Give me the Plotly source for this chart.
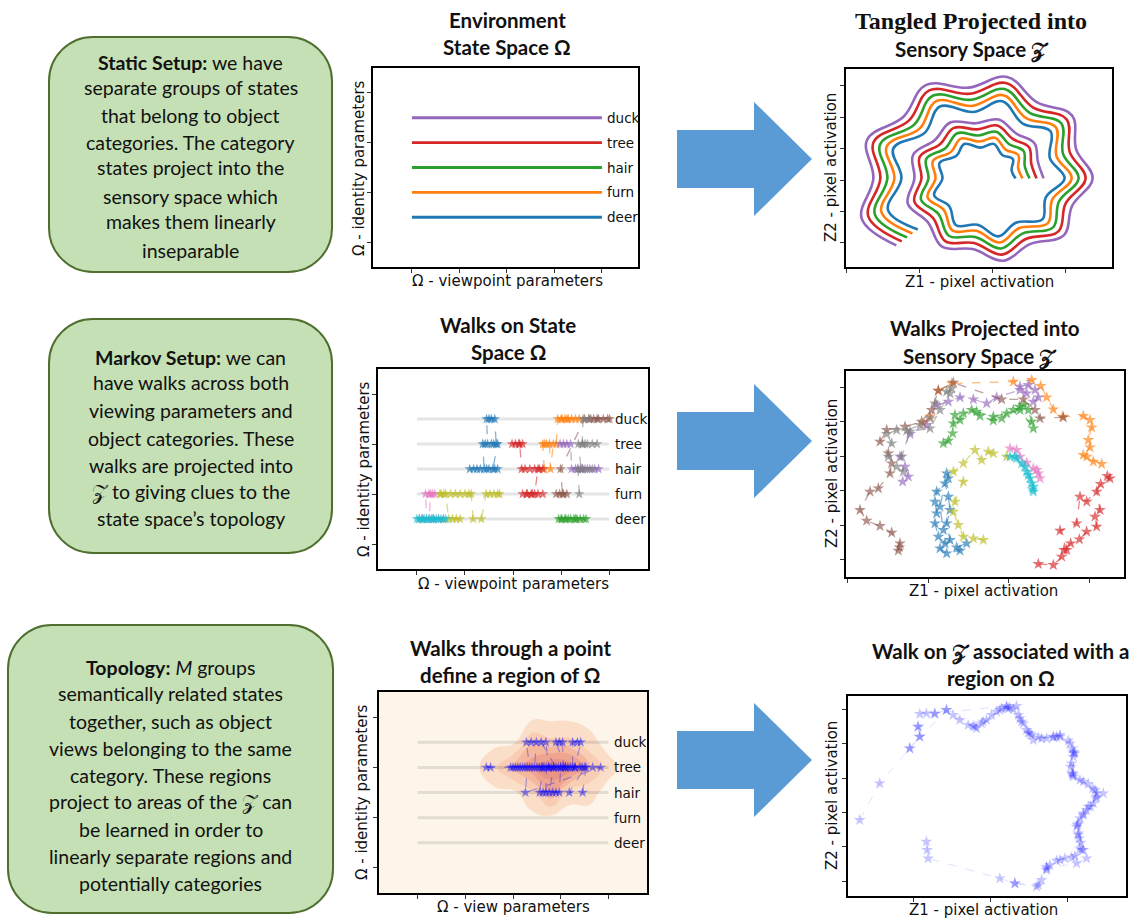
import numpy as np
import plotly.graph_objects as go

W, H = 1145, 922

# ---------------------------------------------------------------- data
CATEGORIES = ["deer", "furn", "hair", "tree", "duck"]
CATEGORY_COLORS = ["#1f77b4", "#ff7f0e", "#2ca02c", "#d62728", "#9467bd"]
CATEGORY_LEVEL = [0, 1, 2, 3, 4]
VIEW_TICKS = [0, 1, 2, 3, 4]
IDENTITY_TICKS = [-1, 1, 3, 5]
VIEW_SPAN = [0, 4]

# tangled spiral (angle along the spiral, radius per category)
SPIRAL_ANGLE_DEG = [0, 20, 40, 60, 80, 100, 120, 140, 160, 180, 200, 220, 240, 260, 280,
                    300, 320, 340, 360, 380, 400, 420, 440, 460, 480, 500, 520, 540, 560, 580]
SPIRAL_R_DEER = [86, 79, 102, 92, 119, 106, 135, 119, 151, 133, 168, 147, 184, 160, 200,
                 174, 217, 188, 233, 201, 249, 215, 266, 229, 282, 242, 298, 256, 315, 270]
SPIRAL_R_FURN = [107, 100, 123, 113, 140, 127, 156, 140, 172, 154, 189, 168, 205, 181, 221,
                 195, 238, 209, 254, 222, 270, 236, 287, 250, 303, 263, 319, 277, 336, 291]
SPIRAL_R_HAIR = [128, 121, 144, 134, 161, 148, 177, 161, 193, 175, 210, 189, 226, 202, 242,
                 216, 259, 230, 275, 243, 291, 257, 308, 271, 324, 284, 340, 298, 357, 312]
SPIRAL_R_TREE = [149, 142, 165, 155, 182, 169, 198, 182, 214, 196, 231, 210, 247, 223, 263,
                 237, 280, 251, 296, 264, 312, 278, 329, 292, 345, 305, 361, 319, 378, 333]
SPIRAL_R_DUCK = [170, 163, 186, 176, 203, 190, 219, 203, 235, 217, 252, 231, 268, 244, 284,
                 258, 301, 272, 317, 285, 333, 299, 350, 313, 366, 326, 382, 340, 399, 354]
SPIRAL_CENTER = (422, 265)
SPIRAL_Y_SQUASH = 0.88

Z1_TICKS_STATIC = [0, 219, 438, 657]
Z2_TICKS_STATIC = [72, 166, 260, 354, 448, 542]
Z1_TICKS_MARKOV = [2, 244, 486, 728]
Z2_TICKS_MARKOV = [52, 155, 259, 362, 466, 569]
Z1_TICKS_TOPO = [195, 427, 657]
Z2_TICKS_TOPO = [45, 148, 251, 354, 457, 560]

WALK_COLORS = ["#1f77b4", "#ff7f0e", "#2ca02c", "#d62728", "#9467bd",
               "#8c564b", "#e377c2", "#7f7f7f", "#bcbd22", "#17becf"]

# Markov walks on the state space Omega (viewpoint, identity level)
om_blue_x = [1.10, 1.18, 1.25, 1.32, 1.40, 1.37, 1.42, 1.47, 1.45, 1.50, 1.55, 1.62, 1.65, 1.60, 1.55, 1.68, 1.58, 1.50, 1.62, 1.68, 1.45]
om_blue_y = [2, 2, 2, 2, 2, 3, 3, 3, 4, 4, 4, 4, 3, 3, 3, 3, 2, 2, 2, 2, 2]
om_orange_x = [2.65, 2.62, 2.70, 2.66, 2.76, 2.78, 2.84, 2.90, 2.93, 3.00, 3.08, 3.15, 3.22, 3.30, 3.38, 3.12, 3.02]
om_orange_y = [2, 3, 3, 3, 3, 2, 3, 3, 4, 4, 4, 4, 4, 4, 4, 4, 4]
om_green_x = [2.95, 3.02, 3.08, 3.15, 3.20, 3.27, 3.33, 3.40, 3.47, 3.52, 3.30, 3.10, 3.00]
om_green_y = [0, 0, 0, 0, 0, 0, 0, 0, 0, 0, 0, 0, 0]
om_red_x = [1.98, 2.05, 2.12, 2.20, 2.14, 2.18, 2.25, 2.35, 2.45, 2.55, 2.62, 2.52, 2.45, 2.38, 2.30, 2.20, 2.28, 2.40, 2.52, 2.62]
om_red_y = [3, 3, 3, 3, 3, 2, 2, 2, 2, 2, 2, 2, 1, 1, 1, 1, 1, 1, 1, 1]
om_purple_x = [2.98, 3.05, 3.12, 3.20, 3.22, 3.30, 3.40, 3.50, 3.60, 3.70, 3.78, 3.45, 3.35]
om_purple_y = [3, 3, 3, 3, 2, 2, 2, 2, 2, 2, 2, 2, 2]
om_brown_x = [2.90, 2.97, 3.05, 3.12, 3.03, 2.99, 3.49, 3.58, 3.68, 3.78, 3.88, 3.97, 4.01, 3.75, 3.62]
om_brown_y = [1, 1, 1, 1, 1, 2, 4, 4, 4, 4, 4, 4, 4, 4, 4]
om_pink_x = [0.05, 0.12, 0.20, 0.18, 0.25, 0.32, 0.37, 0.28, 0.26, 0.35, 0.45, 0.55]
om_pink_y = [0, 0, 0, 1, 1, 1, 1, 1, 0, 0, 0, 0]
om_gray_x = [3.38, 3.35, 3.45, 3.55, 3.65, 3.42, 3.36, 3.45, 3.55, 3.65, 3.75, 3.50, 3.44, 3.46, 3.58]
om_gray_y = [1, 2, 2, 2, 2, 2, 3, 3, 3, 3, 3, 3, 3, 4, 4]
om_olive_x = [0.90, 0.82, 0.74, 0.66, 0.60, 0.50, 0.48, 0.56, 0.70, 0.80, 0.90, 1.00, 1.08, 1.13, 1.17, 1.34, 1.44, 1.52, 1.60, 1.68, 1.72]
om_olive_y = [0, 0, 0, 0, 1, 1, 1, 1, 1, 1, 1, 1, 1, 1, 0, 0, 1, 1, 1, 1, 1]
om_cyan_x = [0.00, 0.05, 0.10, 0.15, 0.20, 0.25, 0.30, 0.35, 0.40, 0.45, 0.50, 0.55, 0.60, 0.32, 0.12]
om_cyan_y = [0, 0, 0, 0, 0, 0, 0, 0, 0, 0, 0, 0, 0, 0, 0]

# the same walks seen in the sensory space Z (Z1, Z2)
z_blue_x = [300, 305, 270, 265, 270, 265, 275, 295, 330, 360, 340, 300, 280, 310, 300, 310, 305, 295, 280, 290]
z_blue_y = [310, 295, 255, 225, 190, 160, 120, 100, 88, 100, 78, 70, 85, 110, 160, 200, 240, 280, 210, 140]
z_orange_x = [230, 250, 275, 315, 500, 555, 582, 600, 620, 648, 710, 730, 735, 725, 730, 710, 740, 765, 720]
z_orange_y = [460, 480, 558, 580, 585, 590, 572, 538, 502, 480, 482, 470, 448, 410, 388, 365, 345, 338, 360]
z_green_x = [290, 305, 318, 320, 325, 340, 375, 400, 440, 465, 480, 500, 518, 532, 545, 555, 560, 520, 440, 390, 350]
z_green_y = [400, 408, 430, 460, 485, 470, 500, 482, 468, 475, 490, 500, 510, 515, 500, 465, 445, 500, 480, 495, 490]
z_red_x = [575, 620, 645, 652, 672, 698, 720, 750, 745, 760, 750, 762, 790, 782, 720, 700, 690, 640, 660]
z_red_y = [38, 35, 60, 80, 100, 112, 135, 150, 180, 200, 255, 278, 295, 302, 225, 240, 160, 138, 80]
z_purple_x = [560, 575, 565, 545, 520, 540, 520, 450, 420, 380, 340, 305, 270, 240, 190, 160, 175, 185, 168]
z_purple_y = [525, 538, 560, 575, 570, 550, 560, 538, 520, 532, 538, 525, 515, 455, 428, 360, 330, 300, 285]
z_brown_x = [650, 580, 565, 530, 465, 320, 275, 255, 225, 175, 120, 100, 125, 135, 130, 95, 70, 40, 60, 100, 135, 160, 155, 158]
z_brown_y = [478, 475, 500, 532, 532, 582, 558, 500, 465, 450, 440, 405, 370, 340, 310, 265, 255, 200, 168, 152, 132, 100, 78, 88]
z_pink_x = [490, 510, 520, 540, 560, 575, 580, 570]
z_pink_y = [385, 380, 360, 342, 325, 310, 295, 320]
z_gray_x = [315, 300, 265, 250, 220, 180, 150, 120, 135, 125, 150, 170, 165, 190, 250, 280, 310]
z_gray_y = [565, 555, 520, 475, 455, 438, 440, 428, 400, 360, 330, 315, 360, 435, 445, 500, 550]
z_olive_x = [410, 380, 350, 335, 320, 325, 350, 320, 350, 385, 405, 425, 440, 480]
z_olive_y = [110, 115, 120, 155, 195, 225, 285, 315, 340, 380, 350, 375, 370, 360]
z_cyan_x = [490, 510, 525, 540, 550, 560, 560, 555, 535, 505, 545, 558]
z_cyan_y = [360, 355, 340, 315, 295, 270, 255, 280, 330, 360, 305, 262]

# walks through one point of Omega (all on / around "tree")
region_x = [1.44, 1.53, 1.95, 2.05, 2.15, 2.25, 2.35, 2.28, 2.38, 2.49, 2.45, 2.55, 2.62, 2.56, 2.63, 2.69,
            2.70, 2.80, 2.90, 2.59, 2.69, 2.75, 2.85, 2.76, 2.83, 2.90, 2.97, 3.00, 3.10, 2.90, 2.97, 3.04,
            3.05, 3.15, 3.25, 3.25, 3.35, 3.42, 3.30, 3.40, 3.50, 3.18, 3.46, 3.53, 3.67, 3.84, 2.26, 2.30,
            2.50, 2.65, 2.75, 2.95, 3.20, 2.00, 2.10, 2.20, 2.40, 2.60, 2.85, 3.00, 3.10, 3.30, 3.45]
region_y = [3, 3, 3, 3, 3, 3, 3, 4, 4, 4, 3, 3, 3, 2, 2, 2,
            3, 3, 3, 4, 4, 3, 3, 2, 2, 2, 2, 3, 3, 4, 4, 4,
            3, 3, 3, 4, 4, 4, 3, 3, 3, 2, 2, 3, 3, 3, 2, 3,
            3, 3, 3, 3, 3, 3, 3, 3, 3, 3, 3, 3, 3, 3, 3]

# their images in Z
zr_walk1_x = [215, 235, 260, 295, 315, 335, 360, 380, 400, 415, 430, 445, 460, 475, 495, 510, 520, 535, 550, 570,
              595, 615, 635, 660, 673, 675, 667, 673, 695, 720, 740, 745, 735, 715, 695, 685, 690, 697, 700, 680,
              650, 625, 605, 595, 580, 565, 500, 455, 240, 237, 235]
zr_walk1_y = [546, 548, 546, 558, 543, 528, 513, 508, 518, 528, 543, 553, 563, 566, 560, 543, 523, 498, 483, 476,
              473, 476, 478, 466, 443, 418, 388, 363, 348, 336, 318, 298, 278, 258, 233, 208, 183, 160, 138, 120,
              113, 106, 93, 78, 48, 28, 38, 53, 113, 138, 163]
zr_walk2_x = [210, 215, 185, 295, 385, 480, 525, 555, 635, 680, 670, 765, 720, 690, 715, 685, 595, 570, 500]
zr_walk2_y = [508, 478, 443, 558, 503, 563, 518, 468, 483, 428, 368, 308, 268, 218, 113, 98, 83, 33, 38]
zr_walk3_x = [35, 95, 185, 215, 210, 260, 475, 505, 545, 615, 675, 675, 745, 705, 690, 705, 635, 595]
zr_walk3_y = [228, 338, 443, 478, 508, 548, 570, 570, 488, 478, 428, 358, 308, 248, 188, 138, 108, 88]
zr_walk4_x = [375, 405, 455, 485, 515, 540, 580, 625, 665, 677, 670, 675, 705, 733, 743, 727, 705, 687, 693, 695, 670]
zr_walk4_y = [510, 523, 558, 566, 533, 490, 473, 478, 458, 433, 398, 368, 343, 323, 293, 268, 243, 213, 173, 143, 116]

# ---------------------------------------------------------------- helpers
def px_x(v):
    return v / W


def px_y(v):
    return 1 - v / H


def dom_x(a, b):
    return [a / W, b / W]


def dom_y(top, bottom):
    return [1 - bottom / H, 1 - top / H]


def rgba(hexcol, a):
    h = hexcol.lstrip("#")
    r, g, b = int(h[0:2], 16), int(h[2:4], 16), int(h[4:6], 16)
    return f"rgba({r},{g},{b},{a})"


def rounded_rect(x0, y0, x1, y1, r):
    k = 0.5523 * r
    P = lambda x, y: f"{px_x(x):.5f},{px_y(y):.5f}"
    return (f"M {P(x0 + r, y0)} L {P(x1 - r, y0)} "
            f"C {P(x1 - r + k, y0)} {P(x1, y0 + r - k)} {P(x1, y0 + r)} "
            f"L {P(x1, y1 - r)} "
            f"C {P(x1, y1 - r + k)} {P(x1 - r + k, y1)} {P(x1 - r, y1)} "
            f"L {P(x0 + r, y1)} "
            f"C {P(x0 + r - k, y1)} {P(x0, y1 - r + k)} {P(x0, y1 - r)} "
            f"L {P(x0, y0 + r)} "
            f"C {P(x0, y0 + r - k)} {P(x0 + r - k, y0)} {P(x0 + r, y0)} Z")


def block_arrow(x0, x_neck, x_tip, yc, shaft_half, head_half):
    P = lambda x, y: f"{px_x(x):.5f},{px_y(y):.5f}"
    return (f"M {P(x0, yc - shaft_half)} L {P(x_neck, yc - shaft_half)} L {P(x_neck, yc - head_half)} "
            f"L {P(x_tip, yc)} L {P(x_neck, yc + head_half)} L {P(x_neck, yc + shaft_half)} "
            f"L {P(x0, yc + shaft_half)} Z")


fig = go.Figure()

# ---------------------------------------------------------------- row 1 left : state space
for name, col, lev in zip(CATEGORIES, CATEGORY_COLORS, CATEGORY_LEVEL):
    fig.add_trace(go.Scatter(x=VIEW_SPAN, y=[lev, lev], mode="lines",
                             line=dict(color=col, width=2.8), xaxis="x", yaxis="y",
                             hoverinfo="skip"))

# ---------------------------------------------------------------- row 1 right : tangled spiral
theta = np.deg2rad(SPIRAL_ANGLE_DEG)
for radii, col in zip([SPIRAL_R_DEER, SPIRAL_R_FURN, SPIRAL_R_HAIR, SPIRAL_R_TREE, SPIRAL_R_DUCK],
                      CATEGORY_COLORS):
    r = np.array(radii, dtype=float)
    fig.add_trace(go.Scatter(x=SPIRAL_CENTER[0] + r * np.cos(theta),
                             y=SPIRAL_CENTER[1] + SPIRAL_Y_SQUASH * r * np.sin(theta),
                             mode="lines", line=dict(color=col, width=2.6, shape="spline", smoothing=1.1),
                             xaxis="x2", yaxis="y2", hoverinfo="skip"))

# ---------------------------------------------------------------- row 2 left : walks on Omega
for lev in CATEGORY_LEVEL:
    fig.add_trace(go.Scatter(x=VIEW_SPAN, y=[lev, lev], mode="lines",
                             line=dict(color="rgba(0,0,0,0.10)", width=3),
                             xaxis="x3", yaxis="y3", hoverinfo="skip"))
om_walks = [(om_blue_x, om_blue_y), (om_orange_x, om_orange_y), (om_green_x, om_green_y),
            (om_red_x, om_red_y), (om_purple_x, om_purple_y), (om_brown_x, om_brown_y),
            (om_pink_x, om_pink_y), (om_gray_x, om_gray_y), (om_olive_x, om_olive_y),
            (om_cyan_x, om_cyan_y)]
for (wx, wy), col in zip(om_walks, WALK_COLORS):
    fig.add_trace(go.Scatter(x=wx, y=wy, mode="lines+markers",
                             line=dict(color=rgba(col, 0.55), width=1.3, dash="dash"),
                             marker=dict(symbol="star", size=8, color=rgba(col, 0.65), line=dict(width=0)),
                             xaxis="x3", yaxis="y3", hoverinfo="skip"))

# ---------------------------------------------------------------- row 2 right : walks in Z
z_walks = [(z_blue_x, z_blue_y), (z_orange_x, z_orange_y), (z_green_x, z_green_y),
           (z_red_x, z_red_y), (z_purple_x, z_purple_y), (z_brown_x, z_brown_y),
           (z_pink_x, z_pink_y), (z_gray_x, z_gray_y), (z_olive_x, z_olive_y),
           (z_cyan_x, z_cyan_y)]
for (wx, wy), col in zip(z_walks, WALK_COLORS):
    fig.add_trace(go.Scatter(x=wx, y=wy, mode="lines+markers",
                             line=dict(color=rgba(col, 0.55), width=1.3, dash="dash"),
                             marker=dict(symbol="star", size=9, color=rgba(col, 0.65), line=dict(width=0)),
                             xaxis="x4", yaxis="y4", hoverinfo="skip"))

# ---------------------------------------------------------------- row 3 left : region of Omega
fig.add_trace(go.Histogram2dContour(
    x=region_x, y=region_y,
    xbins=dict(start=-1.0, end=5.0, size=0.4), ybins=dict(start=-2.5, end=6.5, size=1.0),
    colorscale=[[0, "#fdf5ea"], [0.1, "#fce4cf"], [0.3, "#fad1b7"], [0.5, "#f5b89f"],
                [0.7, "#eda08b"], [0.9, "#e58f82"], [1, "#de8079"]],
    zmin=0, zmax=11, showscale=False,
    contours=dict(coloring="fill", showlines=False, start=0.5, end=10.5, size=2),
    line=dict(width=0, smoothing=1.3), xaxis="x5", yaxis="y5", hoverinfo="skip"))
for lev in CATEGORY_LEVEL:
    fig.add_trace(go.Scatter(x=VIEW_SPAN, y=[lev, lev], mode="lines",
                             line=dict(color="rgba(0,0,0,0.10)", width=3),
                             xaxis="x5", yaxis="y5", hoverinfo="skip"))
fig.add_trace(go.Scatter(x=region_x, y=region_y, mode="lines+markers",
                         line=dict(color="rgba(0,0,255,0.35)", width=1.1, dash="dash"),
                         marker=dict(symbol="star", size=8, color="rgba(0,0,255,0.45)", line=dict(width=0)),
                         xaxis="x5", yaxis="y5", hoverinfo="skip"))

# ---------------------------------------------------------------- row 3 right : region walks in Z
for wx, wy in [(zr_walk1_x, zr_walk1_y), (zr_walk2_x, zr_walk2_y),
               (zr_walk3_x, zr_walk3_y), (zr_walk4_x, zr_walk4_y)]:
    fig.add_trace(go.Scatter(x=wx, y=wy, mode="lines+markers",
                             line=dict(color="rgba(0,0,255,0.12)", width=1, dash="dash"),
                             marker=dict(symbol="star", size=9, color="rgba(0,0,255,0.22)", line=dict(width=0)),
                             xaxis="x6", yaxis="y6", hoverinfo="skip"))

# ---------------------------------------------------------------- axes
frame = dict(showline=True, linecolor="black", linewidth=2, mirror=True, ticks="outside",
             ticklen=4, tickwidth=1, tickcolor="#333", showticklabels=False, showgrid=False,
             zeroline=False)
axes = {
    # name: (x domain px, y domain px, x range, y range, x ticks, y ticks)
    "1": ((373, 638), (68, 267), [-0.82, 4.76], [-2, 6], VIEW_TICKS, IDENTITY_TICKS),
    "2": ((846, 1112), (69, 267), [0, 797], [0, 592], Z1_TICKS_STATIC, Z2_TICKS_STATIC),
    "3": ((378, 648), (369, 569), [-0.81, 4.81], [-2, 6], VIEW_TICKS, IDENTITY_TICKS),
    "4": ((846, 1124), (371, 577), [-2, 832], [-1, 617], Z1_TICKS_MARKOV, Z2_TICKS_MARKOV),
    "5": ((379, 647), (692, 893), [-0.81, 4.81], [-2, 6], VIEW_TICKS, IDENTITY_TICKS),
    "6": ((848, 1126), (696, 896), [0, 833], [0, 600], Z1_TICKS_TOPO, Z2_TICKS_TOPO),
}
layout_axes = {}
for k, (xd, yd, xr, yr, xt, yt) in axes.items():
    sfx = "" if k == "1" else k
    layout_axes["xaxis" + sfx] = dict(frame, domain=dom_x(*xd), range=xr, tickvals=xt,
                                      anchor="y" + sfx)
    layout_axes["yaxis" + sfx] = dict(frame, domain=dom_y(*yd), range=yr, tickvals=yt,
                                      anchor="x" + sfx)

# ---------------------------------------------------------------- text
annotations = []


def txt(x, y, s, size, family="Lato", color="#111", xanchor="center", yanchor="middle", angle=0):
    annotations.append(dict(x=px_x(x), y=px_y(y), xref="paper", yref="paper", text=s, showarrow=False,
                            font=dict(size=size, family=family, color=color), xanchor=xanchor,
                            yanchor=yanchor, textangle=angle))


# category labels inside the Omega panels
for sfx, xlab in [("", 4.06), ("3", 4.08), ("5", 4.08)]:
    for name, lev in zip(CATEGORIES, CATEGORY_LEVEL):
        annotations.append(dict(x=xlab, y=lev, xref="x" + sfx, yref="y" + sfx, text=name, showarrow=False,
                                xanchor="left", yanchor="middle",
                                font=dict(size=13.5, family="DejaVu Sans", color="#111")))

# axis labels
AX_FONT = "DejaVu Sans"
txt(507, 281, "Ω - viewpoint parameters", 15, AX_FONT)
txt(359, 168, "Ω - identity parameters", 15, AX_FONT, angle=-90)
txt(979, 282, "Z1 - pixel activation", 15, AX_FONT)
txt(831, 168, "Z2 - pixel activation", 15, AX_FONT, angle=-90)
txt(513, 584, "Ω - viewpoint parameters", 15, AX_FONT)
txt(364, 469, "Ω - identity parameters", 15, AX_FONT, angle=-90)
txt(983, 591, "Z1 - pixel activation", 15, AX_FONT)
txt(832, 474, "Z2 - pixel activation", 15, AX_FONT, angle=-90)
txt(513, 907, "Ω - view parameters", 15, AX_FONT)
txt(362, 792, "Ω - identity parameters", 15, AX_FONT, angle=-90)
txt(983, 910, "Z1 - pixel activation", 15, AX_FONT)
txt(832, 796, "Z2 - pixel activation", 15, AX_FONT, angle=-90)

# panel titles
TF = 20.5
txt(507, 20, "<b>Environment</b>", TF)
txt(507, 47, "<b>State Space Ω</b>", TF)
txt(971, 21, "<b>Tangled Projected into</b>", 24, "Liberation Serif")
txt(972, 50, "<b>Sensory Space 𝒵</b>", TF)
txt(508, 325, "<b>Walks on State</b>", TF)
txt(508, 352, "<b>Space Ω</b>", TF)
txt(985, 328, "<b>Walks Projected into</b>", TF)
txt(980, 357, "<b>Sensory Space 𝒵</b>", TF)
txt(510, 648, "<b>Walks through a point</b>", TF)
txt(510, 675, "<b>define a region of Ω</b>", TF)
txt(1001, 652, "<b>Walk on 𝒵 associated with a</b>", TF)
txt(1001, 678, "<b>region on Ω</b>", TF)

# boxed explanations
BOX1 = ["<b>Static Setup:</b> we have", "separate groups of states", "that belong to object",
        "categories. The category", "states project into the", "sensory space which",
        "makes them linearly", "inseparable"]
BOX1_Y = [62, 88, 115, 142, 168, 196, 222, 250]
BOX2 = ["<b>Markov Setup:</b> we can", "have walks across both", "viewing parameters and",
        "object categories. These", "walks are projected into", "𝒵 to giving clues to the",
        "state space’s topology"]
BOX2_Y = [357, 383, 410, 438, 465, 492, 518]
BOX3 = ["<b>Topology:</b> <i>M</i> groups", "semantically related states", "together, such as object",
        "views belonging to the same", "category. These regions", "project to areas of the 𝒵 can",
        "be learned in order to", "linearly separate regions and", "potentially categories"]
BOX3_Y = [667, 693, 721, 748, 775, 802, 829, 856, 883]
for lines, ys, cx in [(BOX1, BOX1_Y, 190.5), (BOX2, BOX2_Y, 190.5), (BOX3, BOX3_Y, 170.5)]:
    for s, y in zip(lines, ys):
        txt(cx, y, s, 19.5, "Lato", "#111")

# ---------------------------------------------------------------- shapes
shapes = []
for (x0, y0, x1, y1) in [(49, 37, 332, 272), (49, 319, 332, 553), (8, 625, 333, 913)]:
    shapes.append(dict(type="path", xref="paper", yref="paper", path=rounded_rect(x0, y0, x1, y1, 44),
                       fillcolor="#c5e0b4", line=dict(color="#4f6f2f", width=2), layer="below"))
for yc in [159, 441, 760]:
    shapes.append(dict(type="path", xref="paper", yref="paper",
                       path=block_arrow(677, 754, 812, yc, 29, 57),
                       fillcolor="#5b9bd5", line=dict(width=0), layer="below"))
# cream background of the density panel
shapes.append(dict(type="rect", xref="x5 domain", yref="y5 domain", x0=0, x1=1, y0=0, y1=1,
                   fillcolor="#fdf5ea", line=dict(width=0), layer="below"))

fig.update_layout(
    width=W, height=H, margin=dict(l=0, r=0, t=0, b=0),
    paper_bgcolor="white", plot_bgcolor="white", showlegend=False,
    annotations=annotations, shapes=shapes, **layout_axes,
)

fig.write_html("out.html")
